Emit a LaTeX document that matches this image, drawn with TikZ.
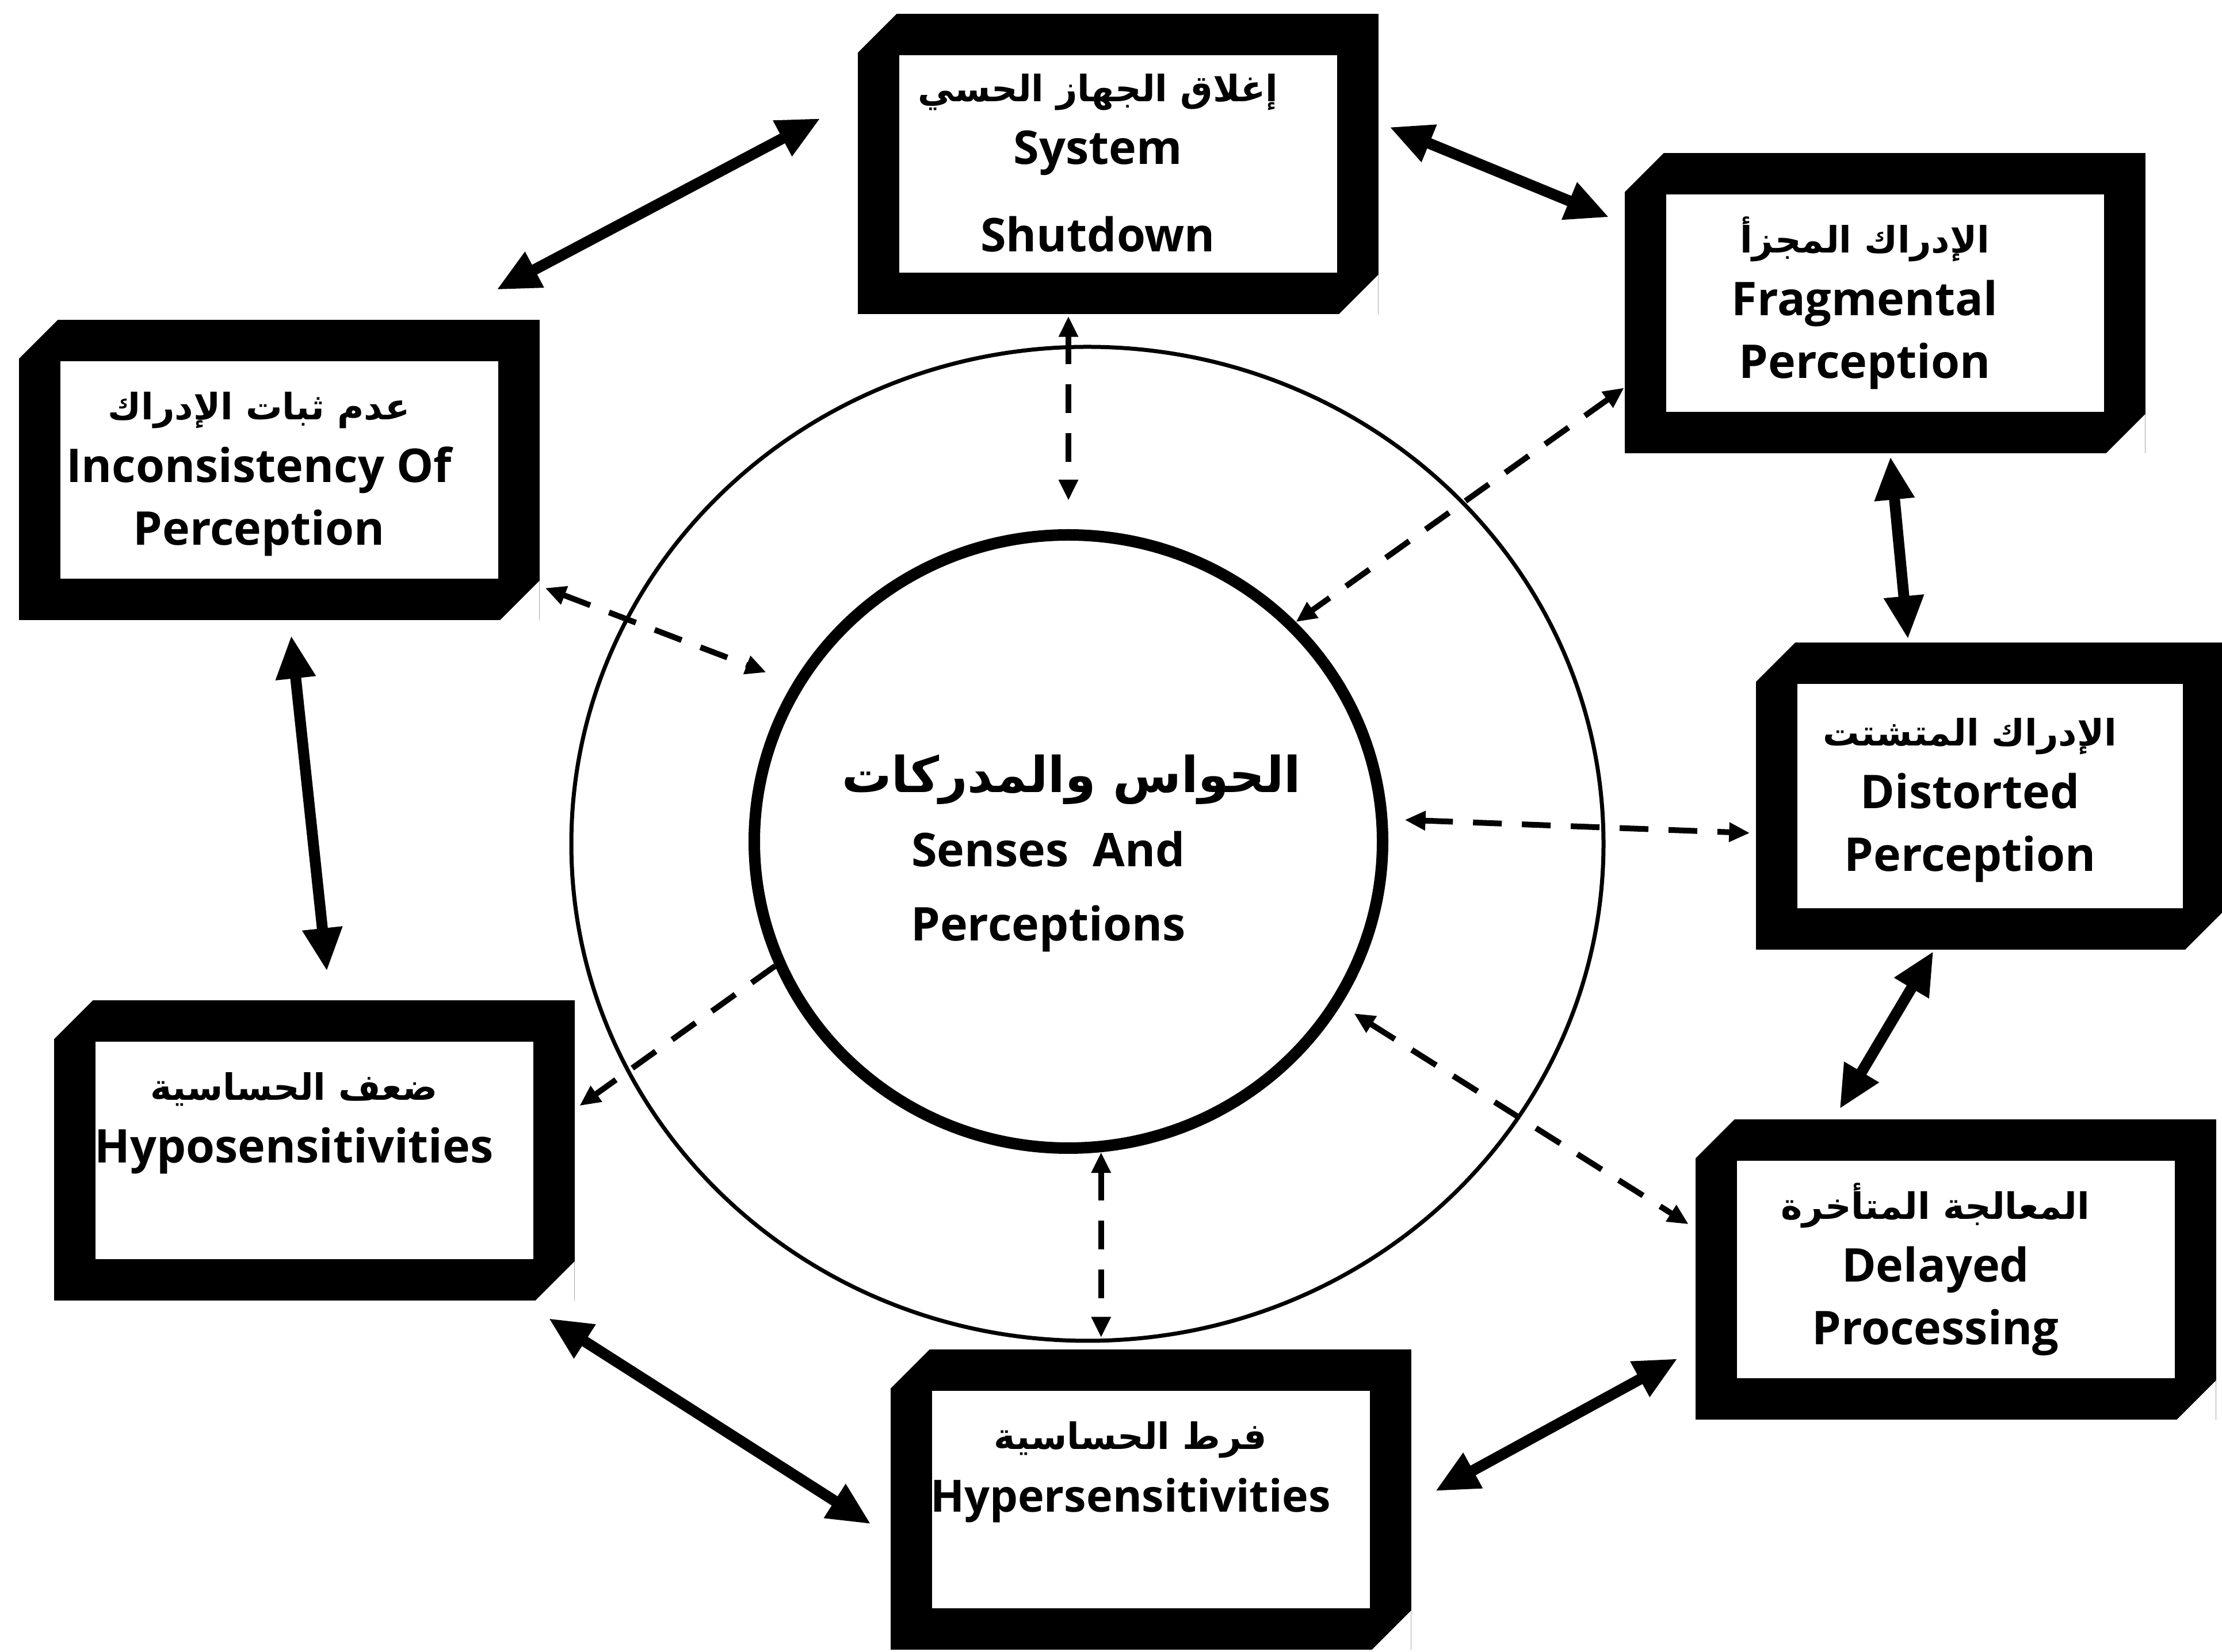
\documentclass[tikz,border=0pt]{standalone}
\usepackage{fontspec}
\setmainfont{Open Sans}
\newfontfamily\arabicfont[Script=Arabic]{DejaVu Sans}
\TeXXeTstate=1
\usetikzlibrary{arrows.meta, shapes.geometric, calc}

\newcommand{\artext}[2][18]{{\arabicfont\fontsize{#1}{31}\selectfont\beginR #2\endR}}
% text block, pulled a little to the left (and down, if asked)
\newcommand{\lines}[2][0mm]{\raisebox{#1}[\height][\depth]{\begin{tabular}{@{}c@{}}#2\end{tabular}}\rule{7mm}{0pt}}

\tikzset{
    panel/.style={rectangle, fill=black, inner sep=0pt,
        minimum width=9.05cm, minimum height=5.22cm,
        path picture={
            % cut corners and white inside
            \fill[white] ([shift={(-1mm,1mm)}]path picture bounding box.north west)
                -- ++(8.8mm,0) -- ++(-8.8mm,-8.8mm) -- cycle;
            \fill[white] ([shift={(1mm,-1mm)}]path picture bounding box.south east)
                -- ++(-8.8mm,0) -- ++(8.8mm,8.8mm) -- cycle;
            \fill[white] ([shift={(7.2mm,-7.2mm)}]path picture bounding box.north west)
                rectangle ([shift={(-7.2mm,7.2mm)}]path picture bounding box.south east);
        }},
    ring/.style={ellipse, draw, line width=0.7mm, inner sep=0pt,
        minimum width=17.94cm, minimum height=17.28cm},
    core/.style={ellipse, draw, line width=2mm, inner sep=0pt,
        minimum width=10.92cm, minimum height=10.66cm},
    twoway/.style={{Triangle[length=7.5mm,width=6.5mm]}-{Triangle[length=7.5mm,width=6.5mm]},
        line width=1.9mm},
    dashway/.style={{Triangle[length=3.6mm,width=3.2mm]}-{Triangle[length=3.6mm,width=3.2mm]},
        line width=1mm, dash pattern=on 5mm off 3.5mm},
    dashout/.style={-{Triangle[length=3.6mm,width=3.2mm]},
        line width=1mm, dash pattern=on 5mm off 3.5mm}
}

\begin{document}
\begin{tikzpicture}[font=\fontsize{23}{31}\selectfont\bfseries]
    \useasboundingbox (0,0) rectangle (38.62,28.72);

    % Circles
    \node[ring] (ring) at (18.90,14.05) {};
    \node[core] (core) at (18.57,14.09)
        {\makebox[0pt]{\lines[-2.2mm]{\hspace*{8mm}\artext[24.5]{الحواس والمدركات}\\[2mm]Senses\ \ And\\[2mm]Perceptions}}};

    % Boxes
    \node[panel] (shut) at (19.43,25.87)
        {\lines{\artext{إغلاق الجهاز الحسي}\\System\\[4.3mm]Shutdown}};
    \node[panel] (frag) at (32.76,23.45)
        {\lines{\artext{الإدراك المجزأ}\\Fragmental\\Perception}};
    \node[panel, minimum width=8.14cm, minimum height=5.34cm] (dist) at (34.59,14.88)
        {\lines{\artext{الإدراك المتشتت}\\Distorted\\Perception}};
    \node[panel] (delay) at (33.99,6.65)
        {\lines{\artext{المعالجة المتأخرة}\\Delayed\\Processing}};
    \node[panel] (hyper) at (20.00,2.65)
        {\lines{\artext{فرط الحساسية}\\{\fontsize{22}{31}\selectfont Hypersensitivities}\\\mbox{}}};
    \node[panel] (hypo) at (5.46,8.72)
        {\lines{\artext{ضعف الحساسية}\\Hyposensitivities\\\mbox{}}};
    \node[panel] (incon) at (4.85,20.55)
        {\lines{\artext{عدم ثبات الإدراك}\\Inconsistency Of\\Perception}};

    % Solid links round the ring
    \draw[twoway, shorten <=2mm, shorten >=2.8mm] (shut.9) -- (frag.163);
    \draw[twoway, shorten <=0.5mm, shorten >=0.5mm] (frag.-88) -- (dist.118);
    \draw[twoway, shorten <=0.2mm, shorten >=2mm] (dist.-110) -- (delay.129);
    \draw[twoway, shorten <=3.4mm, shorten >=4.7mm] (delay.-163) -- (hyper.-1);
    \draw[twoway, shorten <=3.9mm, shorten >=5.6mm] (hyper.188) -- (hypo.-36);
    \draw[twoway, shorten <=5mm, shorten >=2.6mm] (hypo.84) -- (incon.-86);
    \draw[twoway, shorten <=11mm, shorten >=7.2mm] (incon.43) -- (shut.166);

    % Dashed links to the centre
    \draw[dashway, shorten <=0.3mm, shorten >=5mm] (core.north |- shut.south) -- (core.north);
    \draw[dashway] (frag.-162) -- (core.44);
    \draw[dashway, shorten <=3mm, shorten >=1mm] (core.4) -- (dist.-171);
    \draw[dashway, shorten <=2.7mm, shorten >=1.3mm] (core.-31) -- (delay.171);
    \draw[dashway, shorten >=2mm] (core.-84) -- (core.-84 |- hyper.north);
    \draw[dashout, shorten >=1mm] (core.-157) -- (hypo.9);
    \draw[dashway, shorten <=1mm, shorten >=5mm] (incon.-24) -- (core.150);
\end{tikzpicture}
\end{document}
